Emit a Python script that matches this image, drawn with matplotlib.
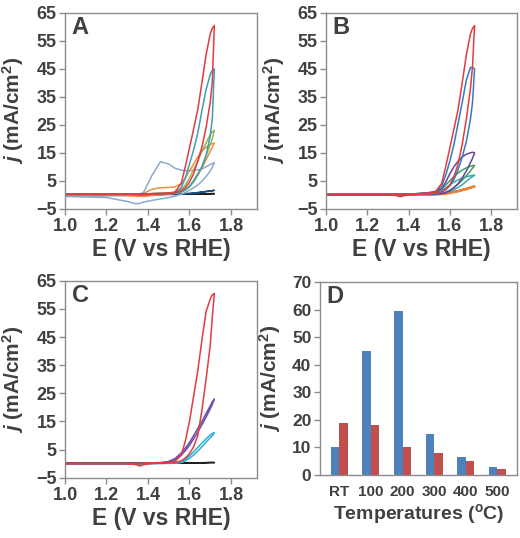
import matplotlib
matplotlib.use("Agg")
import matplotlib.pyplot as plt
import numpy as np

plt.rcParams["font.family"] = ["Liberation Sans", "DejaVu Sans"]
plt.rcParams["font.weight"] = "bold"
plt.rcParams["mathtext.fontset"] = "custom"
plt.rcParams["mathtext.rm"] = "Liberation Sans:bold"
plt.rcParams["mathtext.it"] = "Liberation Sans:bold:italic"
plt.rcParams["mathtext.bf"] = "Liberation Sans:bold"

TXT = "#404040"
SPINE = "#8c8c8c"

# potential grid (V vs RHE) shared by all CV sweeps
E_SCAN = [1.00, 1.20, 1.30, 1.34, 1.36, 1.38, 1.42, 1.46, 1.50, 1.53, 1.56,
          1.58, 1.60, 1.62, 1.64, 1.66, 1.68, 1.70, 1.71, 1.72]

# panel A: forward / reverse sweeps, j in mA/cm2
a_red_fwd = [0.2, 0.2, 0.2, 0.2, 0.2, 0.3, 0.4, 0.5, 0.6, 1.0, 4.0, 10, 16.7, 23.5, 30.5, 40, 50, 57.5, 59.5, 60.5]
a_red_rev = [0.1, 0.1, 0.1, 0.1, 0.1, 0.1, 0.2, 0.3, 0.4, 0.7, 1.4, 2.5, 4.5, 7.5, 12, 17, 24, 33, 40, 60.5]
a_teal_fwd = [0.2, 0.2, 0.2, 0.2, 0.2, 0.3, 0.4, 0.5, 0.6, 0.8, 2.5, 6, 11, 16, 22, 30, 37.5, 43, 44.5, 45]
a_teal_rev = [0.1, 0.1, 0.1, 0.1, 0.1, 0.1, 0.2, 0.3, 0.4, 0.5, 1.0, 1.8, 3.0, 5.0, 7.5, 10, 14, 21, 27, 45]
a_green_fwd = [0.2, 0.2, 0.2, 0.2, 0.2, 0.3, 0.4, 0.5, 0.6, 0.7, 1.8, 3.5, 6, 9, 12, 15.5, 18.5, 21.5, 22.5, 23]
a_green_rev = [0.1, 0.1, 0.1, 0.1, 0.1, 0.1, 0.2, 0.3, 0.4, 0.6, 1.0, 1.6, 2.8, 4.5, 7, 10, 14, 18, 20, 23]
a_orange_fwd = [0.2, 0.2, 0.2, 0.1, 0.2, 0.5, 2.0, 2.5, 2.6, 2.8, 4.0, 6, 8.5, 11, 13.5, 15.5, 17, 18, 18.3, 18.5]
a_orange_rev = [0.0, -0.1, -0.3, -0.5, -0.6, -0.6, -0.3, 0.0, 0.2, 0.5, 1.0, 1.8, 3.0, 4.8, 7, 9.5, 12.5, 15.5, 17, 18.5]
a_ltblue_fwd = [-0.5, -0.4, -0.3, -0.2, 0.2, 1.0, 7, 11.8, 11, 9.5, 8.8, 8.6, 8.6, 8.7, 8.9, 9.2, 10, 10.8, 11.2, 11.5]
a_ltblue_rev = [-0.6, -1.0, -2.4, -3.2, -3.1, -2.6, -2.0, -1.5, -1.0, -0.5, 0.2, 0.8, 1.6, 2.5, 3.5, 4.8, 6.5, 8.5, 9.8, 11.5]
a_navy_fwd = [0.1, 0.1, 0.1, 0.1, 0.1, 0.1, 0.1, 0.1, 0.2, 0.2, 0.3, 0.4, 0.5, 0.6, 0.8, 1.0, 1.2, 1.4, 1.5, 1.6]
a_navy_rev = [0.0, 0.0, 0.0, 0.0, 0.0, 0.0, 0.0, 0.1, 0.1, 0.1, 0.2, 0.3, 0.4, 0.5, 0.7, 0.9, 1.1, 1.3, 1.4, 1.6]
a_black_fwd = [0.2, 0.2, 0.2, 0.2, 0.2, 0.2, 0.2, 0.2, 0.2, 0.2, 0.2, 0.2, 0.3, 0.3, 0.3, 0.3, 0.3, 0.4, 0.4, 0.4]
a_black_rev = [0.1, 0.1, 0.1, 0.1, 0.1, 0.1, 0.1, 0.1, 0.2, 0.2, 0.2, 0.2, 0.2, 0.3, 0.3, 0.3, 0.3, 0.3, 0.4, 0.4]

# panel B
b_red_fwd = [0.1, 0.1, 0.1, 0.1, 0.1, 0.2, 0.3, 0.4, 0.6, 1.0, 4.0, 10, 16.7, 23.5, 30.5, 40, 50, 57.5, 59.5, 60.5]
b_red_rev = [0.0, 0.0, 0.0, -0.3, -0.7, -0.3, 0.1, 0.2, 0.3, 0.6, 1.0, 2.0, 3.5, 6.5, 11, 18, 27, 38, 46, 60.5]
b_blue_fwd = [0.1, 0.1, 0.1, 0.1, 0.1, 0.2, 0.3, 0.4, 0.6, 1.0, 3.0, 7, 12, 18, 25.5, 33, 41, 45.5, 45.5, 45]
b_blue_rev = [0.0, 0.0, 0.0, 0.0, 0.0, 0.1, 0.1, 0.2, 0.3, 0.5, 0.9, 1.8, 3.2, 5.5, 9, 13.5, 19, 27, 33, 45]
b_purple_fwd = [0.1, 0.1, 0.1, 0.1, 0.1, 0.2, 0.3, 0.5, 0.8, 1.2, 2.0, 4.5, 7.5, 10, 12, 13.5, 14.5, 15, 15.2, 15]
b_purple_rev = [0.0, 0.0, 0.0, 0.0, 0.0, 0.1, 0.1, 0.2, 0.3, 0.3, 0.4, 0.8, 1.5, 2.5, 4, 6, 8.5, 11.5, 13, 15]
b_green_fwd = [0.1, 0.1, 0.1, 0.1, 0.1, 0.2, 0.3, 0.5, 0.7, 0.8, 2.0, 3.5, 5, 6.5, 7.8, 8.8, 9.6, 10.2, 10.4, 10.5]
b_green_rev = [0.0, 0.0, 0.0, 0.0, 0.0, 0.1, 0.1, 0.2, 0.3, 0.4, 0.5, 0.9, 1.6, 2.6, 3.8, 5.2, 6.8, 8.5, 9.5, 10.5]
b_teal_fwd = [0.1, 0.1, 0.1, 0.1, 0.1, 0.2, 0.2, 0.3, 0.4, 0.6, 1.5, 2.5, 3.5, 4.5, 5.3, 5.9, 6.4, 6.8, 6.9, 7.0]
b_teal_rev = [0.0, 0.0, 0.0, 0.0, 0.0, 0.1, 0.1, 0.1, 0.2, 0.2, 0.3, 0.6, 1.1, 1.8, 2.6, 3.6, 4.8, 6.0, 6.5, 7.0]
b_orange_fwd = [0.1, 0.1, 0.1, 0.1, 0.1, 0.1, 0.1, 0.1, 0.1, 0.2, 0.4, 0.6, 0.8, 1.1, 1.4, 1.8, 2.2, 2.6, 2.8, 3.0]
b_orange_rev = [0.0, 0.0, 0.0, 0.0, 0.0, 0.0, 0.0, 0.0, 0.1, 0.1, 0.2, 0.4, 0.6, 0.9, 1.2, 1.6, 2.0, 2.5, 2.7, 3.0]

# panel C
c_red_fwd = [0.1, 0.1, 0.1, 0.1, 0.1, 0.2, 0.3, 0.4, 0.5, 0.8, 3.0, 8, 15, 24, 33, 44, 54, 58.5, 60, 60.5]
c_red_rev = [0.0, 0.0, 0.0, -0.3, -0.8, -0.3, 0.1, 0.2, 0.3, 0.4, 1.0, 2.0, 3.5, 6, 10, 19, 30, 42, 52, 60.5]
c_purple_fwd = [0.1, 0.1, 0.1, 0.1, 0.1, 0.2, 0.2, 0.3, 0.8, 1.8, 3.8, 5.5, 7.5, 10, 12.5, 15, 17.8, 20.5, 22, 23]
c_purple_rev = [0.0, 0.0, 0.0, 0.0, 0.0, 0.1, 0.1, 0.2, 0.6, 1.4, 3.0, 4.6, 6.5, 8.8, 11.2, 13.8, 16.5, 19.5, 21, 23]
c_cyan_fwd = [0.1, 0.1, 0.1, 0.1, 0.1, 0.1, 0.1, 0.2, 0.2, 0.3, 0.6, 1.5, 2.8, 4.2, 5.8, 7.3, 8.8, 10.2, 10.7, 11]
c_cyan_rev = [0.0, 0.0, 0.0, 0.0, 0.0, 0.0, 0.1, 0.1, 0.1, 0.2, 0.4, 1.0, 1.9, 3.1, 4.5, 6.0, 7.6, 9.2, 10, 11]
c_black_fwd = [0.2, 0.2, 0.2, 0.2, 0.2, 0.2, 0.2, 0.2, 0.2, 0.2, 0.2, 0.3, 0.3, 0.3, 0.3, 0.3, 0.4, 0.4, 0.4, 0.4]
c_black_rev = [0.1, 0.1, 0.1, 0.1, 0.1, 0.1, 0.1, 0.1, 0.2, 0.2, 0.2, 0.2, 0.2, 0.3, 0.3, 0.3, 0.3, 0.4, 0.4, 0.4]

# panel D: current density at 1.72 V
temps = ["RT", "100", "200", "300", "400", "500"]
j_blue = [10.0, 45.0, 59.6, 14.8, 6.7, 2.8]
j_red = [18.7, 18.0, 10.0, 8.0, 5.0, 2.1]

panel_a = [
    ("#1f1f1f", a_black_fwd, a_black_rev),
    ("#1F4E79", a_navy_fwd, a_navy_rev),
    ("#8EA9D1", a_ltblue_fwd, a_ltblue_rev),
    ("#E8913F", a_orange_fwd, a_orange_rev),
    ("#93B552", a_green_fwd, a_green_rev),
    ("#3E9DBA", a_teal_fwd, a_teal_rev),
    ("#E33B3F", a_red_fwd, a_red_rev),
]
panel_b = [
    ("#E8823A", b_orange_fwd, b_orange_rev),
    ("#3AA6BD", b_teal_fwd, b_teal_rev),
    ("#3BA35A", b_green_fwd, b_green_rev),
    ("#6A449C", b_purple_fwd, b_purple_rev),
    ("#2F7DC1", b_blue_fwd, b_blue_rev),
    ("#E33B3F", b_red_fwd, b_red_rev),
]
panel_c = [
    ("#1f1f1f", c_black_fwd, c_black_rev),
    ("#2BB3D6", c_cyan_fwd, c_cyan_rev),
    ("#7152A9", c_purple_fwd, c_purple_rev),
    ("#E33B3F", c_red_fwd, c_red_rev),
]

fig = plt.figure(figsize=(5.2, 5.38), dpi=100)
ax_a = fig.add_axes([0.125, 0.612, 0.369, 0.364])
ax_b = fig.add_axes([0.627, 0.612, 0.367, 0.364])
ax_c = fig.add_axes([0.125, 0.112, 0.369, 0.366])
ax_d = fig.add_axes([0.615, 0.117, 0.379, 0.359])

ylab = r"$j$ (mA/cm$^2$)"


def style(ax, letter, ysize=13):
    for s in ax.spines.values():
        s.set_color(SPINE)
        s.set_linewidth(1.0)
    ax.tick_params(direction="out", length=4, width=1, color=SPINE,
                   labelcolor=TXT, labelsize=ysize, pad=2)
    for lab in ax.get_xticklabels() + ax.get_yticklabels():
        lab.set_fontweight("bold")
    ax.text(0.035, 0.985, letter, transform=ax.transAxes, ha="left", va="top",
            fontsize=17, fontweight="bold", color=TXT)
    ax.set_ylabel(ylab, fontsize=15, fontweight="bold", color=TXT)


E = np.array(E_SCAN)
for ax, curves, letter in [(ax_a, panel_a, "A"), (ax_b, panel_b, "B"), (ax_c, panel_c, "C")]:
    for col, fwd, rev in curves:
        xs = np.concatenate([E, E[::-1]])
        ys = np.concatenate([fwd, rev[::-1]])
        lw = 1.6 if col == "#E8823A" else 1.1
        ax.plot(xs, ys, color=col, lw=lw, solid_joinstyle="round")
    ax.set_xlim(1.0, 1.925)
    ax.set_ylim(-5, 65)
    ax.set_xticks([1.0, 1.2, 1.4, 1.6, 1.8])
    ax.set_xticklabels(["1.0", "1.2", "1.4", "1.6", "1.8"])
    ax.set_yticks(range(-5, 66, 10))
    style(ax, letter)
    ax.tick_params(axis="x", pad=3)
    ax.set_xlabel("E (V vs RHE)", fontsize=16.5, fontweight="bold", color=TXT)
    ax.yaxis.set_label_coords(-0.205, 0.5)
    ax.xaxis.set_label_coords(0.5, -0.148)

x = np.arange(len(temps))
w = 0.27
ax_d.bar(x - w / 2, j_blue, width=w, color="#4F81BD")
ax_d.bar(x + w / 2, j_red, width=w, color="#C0504D")
ax_d.set_xlim(-0.62, 5.62)
ax_d.set_ylim(0, 70)
ax_d.set_xticks(x)
ax_d.set_xticklabels(temps)
ax_d.set_yticks(range(0, 71, 10))
style(ax_d, "D", ysize=12.5)
ax_d.tick_params(axis="x", length=0, pad=7, labelsize=11)
ax_d.set_xlabel(r"Temperatures ($^{\rm o}$C)", fontsize=14, fontweight="bold", color=TXT)
ax_d.yaxis.set_label_coords(-0.185, 0.5)
ax_d.xaxis.set_label_coords(0.5, -0.14)

fig.savefig("out.png", dpi=100)
